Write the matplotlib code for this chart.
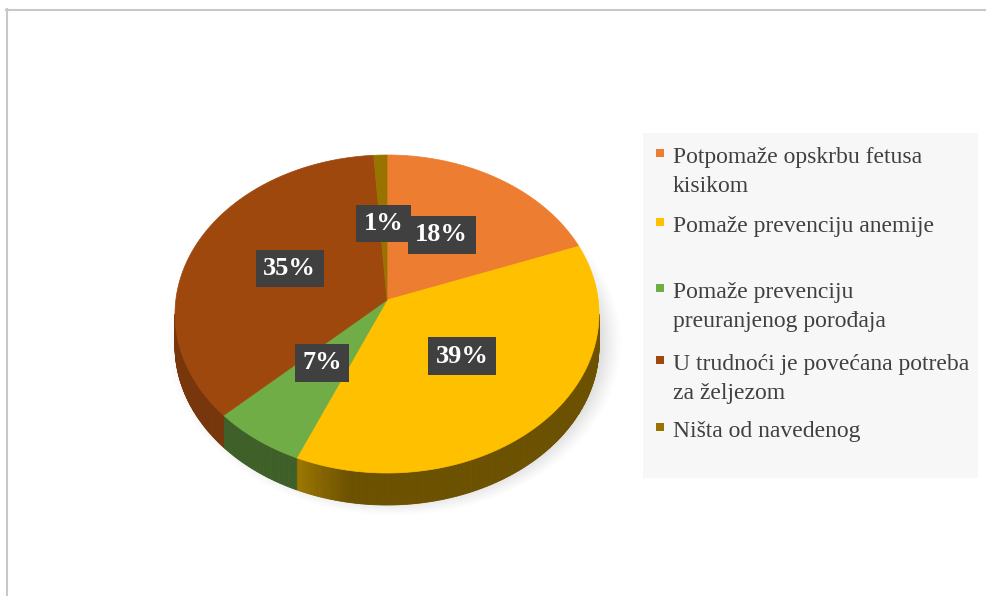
'''3D-style pie: reasons for iron supplementation in pregnancy'''
import numpy as np
import matplotlib.pyplot as plt
from matplotlib.patches import Polygon, Rectangle
from matplotlib import rcParams
rcParams.update({'font.family': 'Liberation Serif', 'font.size': 17})

# data
labels = ['Potpomaže opskrbu fetusa\nkisikom',
          'Pomaže prevenciju anemije',
          'Pomaže prevenciju\npreuranjenog porođaja',
          'U trudnoći je povećana potreba\nza željezom',
          'Ništa od navedenog']
values = [18, 39, 7, 35, 1]
colors = ['#ED7D31', '#FFC000', '#70AD47', '#9E480E', '#997300']
side_dark = [0.6, 0.42, 0.55, 0.75, 0.6]

# pie geometry (pixel units)
cx, cy = 387, 314
rx, ry = 212, 159
ax0, ay0 = 387, 300   # apex where slices meet
depth = 32

fig = plt.figure(figsize=(9.86, 5.96), dpi=100)
ax = fig.add_axes([0, 0, 1, 1])

# frame lines
ax.plot([6, 986], [9.5, 9.5], color='#c8c8c8', lw=1.5)
ax.plot([6.5, 6.5], [9, 596], color='#c8c8c8', lw=1.5)

# soft shadow
yy, xx = np.mgrid[0:596, 0:986]
r = np.sqrt(((xx - 394) / 228.0) ** 2 + ((yy - 342) / 174.0) ** 2)
a = 0.42 * np.clip((1 - r) / 0.13, 0, 1) ** 1.3
sh = np.zeros((596, 986, 4))
sh[..., :3] = 0.55
sh[..., 3] = a
ax.imshow(sh, extent=(0, 986, 596, 0), zorder=1, interpolation='bilinear')
ax.set_xlim(0, 986)
ax.set_ylim(596, 0)
ax.axis('off')


def pt(t):
    t = np.radians(t)
    return cx + rx * np.cos(t), cy - ry * np.sin(t)


def shade(c, f):
    c = np.array(plt.matplotlib.colors.to_rgb(c))
    return tuple(np.clip(c * f, 0, 1))


bounds = 90 - np.concatenate([[0], np.cumsum(values)]) * 3.6

for i in range(len(values)):
    t0, t1 = bounds[i], bounds[i + 1]
    # side (front half only)
    lo, hi = max(t1, -180), min(t0, 0)
    if lo < hi:
        steps = np.linspace(hi, lo, max(2, int((hi - lo) * 2)))
        for a0, a1 in zip(steps[:-1], steps[1:]):
            f = side_dark[i]
            if i == 1:
                f += 0.2 * np.clip((a0 + 100) / -15.0, 0, 1)
            col = shade(colors[i], f)
            p0, p1 = pt(a0), pt(a1)
            ax.add_patch(Polygon([p0, p1, (p1[0], p1[1] + depth), (p0[0], p0[1] + depth)],
                                 closed=True, fc=col, ec=col, lw=0.6, zorder=2))
    # top face
    ts = np.linspace(t0, t1, max(3, int(abs(t0 - t1))))
    pts = [(ax0, ay0)] + [pt(t) for t in ts]
    ax.add_patch(Polygon(pts, closed=True, fc=colors[i], ec=colors[i], lw=0.5, zorder=3))

# percentage labels
nudge = [(-2, 2), (0, 0), (0, 0), (0, 0), (0, 3)]
for i, v in enumerate(values):
    mid = np.radians((bounds[i] + bounds[i + 1]) / 2)
    lx = ax0 + 0.5 * rx * np.cos(mid) + nudge[i][0]
    ly = ay0 - 0.5 * ry * np.sin(mid) + nudge[i][1]
    ax.text(lx, ly, '%d%%' % v, color='white', fontsize=19, fontweight='bold',
            ha='center', va='center', zorder=6,
            bbox=dict(boxstyle='square,pad=0.28', fc='#404040', ec='none'))

# legend
ax.add_patch(Rectangle((643, 133), 335, 345, fc='#f7f7f7', ec='none', zorder=1))
baselines = [163, 232, 298, 370, 437]
for i, lab in enumerate(labels):
    b = baselines[i]
    ax.add_patch(Rectangle((656, b - 14), 8, 8, fc=colors[i], ec='none', zorder=4))
    for j, line in enumerate(lab.split('\n')):
        ax.text(673, b + 29 * j, line, color='#404040', fontsize=17,
                ha='left', va='baseline', zorder=4)

plt.savefig('out.png', dpi=100)
